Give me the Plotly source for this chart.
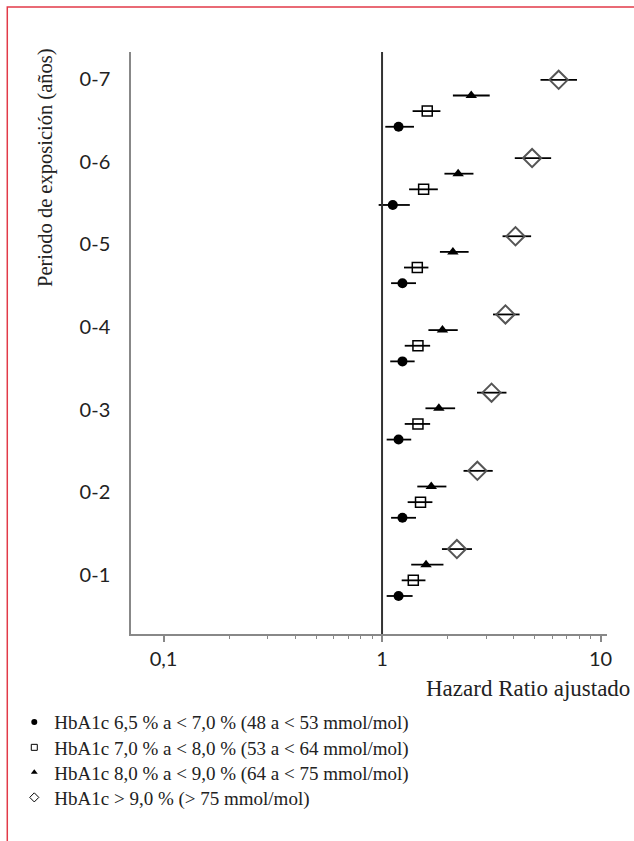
import plotly.graph_objects as go

# ---------------- data ----------------
periods = ["0-1", "0-2", "0-3", "0-4", "0-5", "0-6", "0-7"]
period_label_pos = [2.34, 7.63, 12.91, 18.2, 23.49, 28.77, 34.06]

series_names = [
    "HbA1c 6,5 % a < 7,0 % (48 a < 53 mmol/mol)",
    "HbA1c 7,0 % a < 8,0 % (53 a < 64 mmol/mol)",
    "HbA1c 8,0 % a < 9,0 % (64 a < 75 mmol/mol)",
    "HbA1c > 9,0 % (> 75 mmol/mol)",
]

# Hazard ratios and 95% CI per period (0-1 ... 0-7)
hr_65_70 = [1.19, 1.24, 1.19, 1.24, 1.24, 1.12, 1.19]
lo_65_70 = [1.05, 1.10, 1.05, 1.09, 1.10, 0.965, 1.035]
hi_65_70 = [1.38, 1.43, 1.36, 1.41, 1.43, 1.34, 1.40]

hr_70_80 = [1.39, 1.50, 1.46, 1.46, 1.45, 1.55, 1.61]
lo_70_80 = [1.23, 1.31, 1.27, 1.27, 1.26, 1.33, 1.38]
hi_70_80 = [1.58, 1.70, 1.66, 1.66, 1.63, 1.80, 1.85]

hr_80_90 = [1.59, 1.68, 1.82, 1.89, 2.11, 2.23, 2.56]
lo_80_90 = [1.36, 1.45, 1.58, 1.63, 1.84, 1.93, 2.11]
hi_80_90 = [1.91, 1.97, 2.16, 2.22, 2.49, 2.62, 3.11]

hr_90 = [2.20, 2.73, 3.17, 3.67, 4.08, 4.86, 6.43]
lo_90 = [1.88, 2.36, 2.72, 3.22, 3.56, 4.05, 5.31]
hi_90 = [2.58, 3.21, 3.71, 4.26, 4.81, 5.94, 7.80]

series_hr = [hr_65_70, hr_70_80, hr_80_90, hr_90]
series_lo = [lo_65_70, lo_70_80, lo_80_90, lo_90]
series_hi = [hi_65_70, hi_70_80, hi_80_90, hi_90]

x_tickvals = [0.1, 1, 10]
x_ticktext = ["0,1", "1", "10"]
x_minor = [0.2, 0.3, 0.4, 0.5, 0.6, 0.7, 0.8, 0.9, 2, 3, 4, 5, 6, 7, 8, 9]

# ---------------- styles ----------------
styles = [
    dict(symbol="circle", size=10, color="#000000", line=dict(width=0)),
    dict(symbol="square-open", size=10, color="#000000", line=dict(width=1.5)),
    dict(symbol="triangle-up", size=10, color="#000000", line=dict(width=0)),
    dict(symbol="diamond-open", size=14, color="#555555", line=dict(width=2)),
]
legend_styles = [
    dict(symbol="circle", size=6, color="#000000"),
    dict(symbol="square-open", size=6, color="#000000", line=dict(width=1)),
    dict(symbol="triangle-up", size=6, color="#000000"),
    dict(symbol="diamond-open", size=7, color="#000000", line=dict(width=1)),
]
legend_keys = ["legend", "legend2", "legend3", "legend4"]
legend_y = [-0.1515, -0.195, -0.238, -0.281]   # paper y of each legend row

fig = go.Figure()
n_groups = len(periods)
for s in range(4):
    hr = series_hr[s]
    ys = [5 * g + 1 + s for g in range(n_groups)]
    plus = [h - v for h, v in zip(series_hi[s], hr)]
    minus = [v - l for v, l in zip(hr, series_lo[s])]
    fig.add_trace(go.Scatter(
        x=hr, y=ys, mode="markers", showlegend=False,
        marker=styles[s],
        error_x=dict(type="data", array=plus, arrayminus=minus,
                     color="#000000", thickness=1.8, width=0),
        name=series_names[s],
    ))
for s in range(4):
    fig.add_trace(go.Scatter(
        x=[None], y=[None], mode="markers", name=series_names[s],
        marker=legend_styles[s], showlegend=True, legend=legend_keys[s],
    ))

# reference line at HR = 1
fig.add_shape(type="line", xref="x", yref="paper", x0=1, x1=1, y0=0, y1=1,
              line=dict(color="#333333", width=2))

# red frame
fig.add_shape(type="rect", xref="paper", yref="paper",
              x0=-0.2599, x1=1.3, y0=1.0773, y1=-0.5,
              line=dict(color="#e23a48", width=1.5), layer="above")

fig.add_annotation(text="Periodo de exposición (años)", xref="paper", yref="paper",
                   x=-0.18, y=1.01, xanchor="center", yanchor="top", textangle=-90,
                   showarrow=False,
                   font=dict(family="Liberation Serif", size=20.5, color="#222222"))
fig.add_annotation(text="Hazard Ratio ajustado", xref="paper", yref="paper",
                   x=1.053, y=-0.093, xanchor="right", yanchor="middle",
                   showarrow=False,
                   font=dict(family="Liberation Serif", size=23, color="#222222"))

legend_common = dict(x=-0.2452, xanchor="left", yanchor="middle",
                     font=dict(family="Liberation Serif", size=19, color="#222222"),
                     bgcolor="rgba(0,0,0,0)", itemwidth=30)
layout_legends = {k: dict(legend_common, y=yv) for k, yv in zip(legend_keys, legend_y)}

fig.update_layout(
    width=634, height=841,
    margin=dict(l=131, r=27, t=52, b=207),
    paper_bgcolor="white", plot_bgcolor="white",
    showlegend=True,
    xaxis=dict(type="log", range=[-1.1487, 1.0294],
               tickmode="array", tickvals=x_tickvals, ticktext=x_ticktext,
               ticks="outside", ticklen=6, tickwidth=1.5, tickcolor="#888888",
               showline=True, linecolor="#888888", linewidth=1.5,
               showgrid=False, zeroline=False,
               tickfont=dict(family="Lato", size=20, color="#222222"),
               minor=dict(tickmode="array", tickvals=x_minor, ticks="outside",
                          ticklen=3, tickwidth=1, tickcolor="#888888", showgrid=False)),
    yaxis=dict(range=[-1.43, 35.78], tickmode="array",
               tickvals=period_label_pos, ticktext=periods,
               ticks="", showline=True, linecolor="#888888", linewidth=1.5,
               showgrid=False, zeroline=False, ticklabelstandoff=15,
               tickfont=dict(family="Lato", size=20, color="#222222")),
    **layout_legends,
)

fig.write_html("out.html")
